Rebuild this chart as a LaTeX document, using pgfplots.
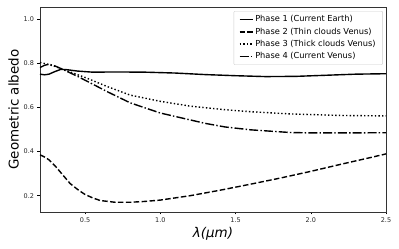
\documentclass[border=0pt]{standalone}
\usepackage{fontspec}
\setmainfont{DejaVu Sans}
\usepackage{pgfplots}
\pgfplotsset{compat=1.18}
\begin{document}
\begin{tikzpicture}
\begin{axis}[
  at={(0,0)}, anchor=south west,
  scale only axis, width=346bp, height=205bp,
  xmin=0.2, xmax=2.5, ymin=0.126, ymax=1.054,
  xtick={0.5,1.0,1.5,2.0,2.5},
  ytick={0.2,0.4,0.6,0.8,1.0},
  tick pos=left, tick align=outside,
  major tick length=2.5bp,
  every tick/.style={black, line width=0.5pt},
  /pgf/number format/assume math mode=true,
  /pgf/number format/fixed, /pgf/number format/fixed zerofill,
  /pgf/number format/precision=1,
  tick label style={font=\fontsize{6.5}{7}\selectfont, text=black!85},
  xlabel={\textit{λ(μm)}},
  ylabel={Geometric albedo},
  xlabel style={font=\fontsize{13.5}{14}\selectfont, yshift=2bp},
  ylabel style={font=\fontsize{13.5}{14}\selectfont, yshift=-2bp},
  axis line style={black!80, line width=0.6pt},
  legend cell align=left,
  legend style={font=\fontsize{8.3}{9.5}\selectfont, draw=black!20, rounded corners=1pt,
    inner xsep=5bp, inner ysep=2.5bp, row sep=0.5bp, at={(0.991,0.9805)}, anchor=north east},
  legend image code/.code={\draw[#1] (0bp,0bp) -- (13bp,0bp);},
  every axis plot/.append style={line width=1.4pt, black},
]
\addplot[solid] coordinates {
(0.20,0.750) (0.23,0.747) (0.26,0.750) (0.30,0.762) (0.34,0.772) (0.38,0.770)
(0.45,0.764) (0.55,0.759) (0.70,0.760) (0.90,0.759) (1.10,0.755) (1.30,0.748)
(1.50,0.743) (1.70,0.739) (1.90,0.740) (2.10,0.745) (2.30,0.750) (2.50,0.752)};
\addlegendentry{Phase 1 (Current Earth)}
\addplot[dash pattern=on 5.5bp off 2.4bp] coordinates {
(0.20,0.385) (0.23,0.375) (0.26,0.362) (0.30,0.335) (0.35,0.295) (0.40,0.255)
(0.45,0.228) (0.50,0.205) (0.55,0.190) (0.60,0.178) (0.70,0.170) (0.80,0.170)
(0.90,0.174) (1.00,0.180) (1.20,0.200) (1.40,0.225) (1.60,0.252) (1.80,0.280)
(2.00,0.310) (2.20,0.342) (2.40,0.373) (2.50,0.389)};
\addlegendentry{Phase 2 (Thin clouds Venus)}
\addplot[dash pattern=on 1.4bp off 2.2bp] coordinates {
(0.20,0.803) (0.25,0.795) (0.30,0.785) (0.40,0.760) (0.50,0.735) (0.643,0.695)
(0.80,0.655) (1.00,0.627) (1.20,0.605) (1.43,0.589) (1.60,0.580) (1.86,0.570)
(2.20,0.563) (2.50,0.561)};
\addlegendentry{Phase 3 (Thick clouds Venus)}
\addplot[dash pattern=on 9bp off 2.2bp on 1.4bp off 2.2bp] coordinates {
(0.20,0.780) (0.23,0.790) (0.26,0.795) (0.30,0.787) (0.35,0.772) (0.45,0.740)
(0.55,0.705) (0.643,0.672) (0.80,0.620) (1.00,0.574) (1.14,0.552) (1.30,0.527)
(1.43,0.511) (1.60,0.498) (1.86,0.486) (2.00,0.484) (2.25,0.484) (2.50,0.485)};
\addlegendentry{Phase 4 (Current Venus)}
\end{axis}
\pgfresetboundingbox
\path (-40bp,-37bp) rectangle (359bp,212bp);
\end{tikzpicture}
\end{document}
